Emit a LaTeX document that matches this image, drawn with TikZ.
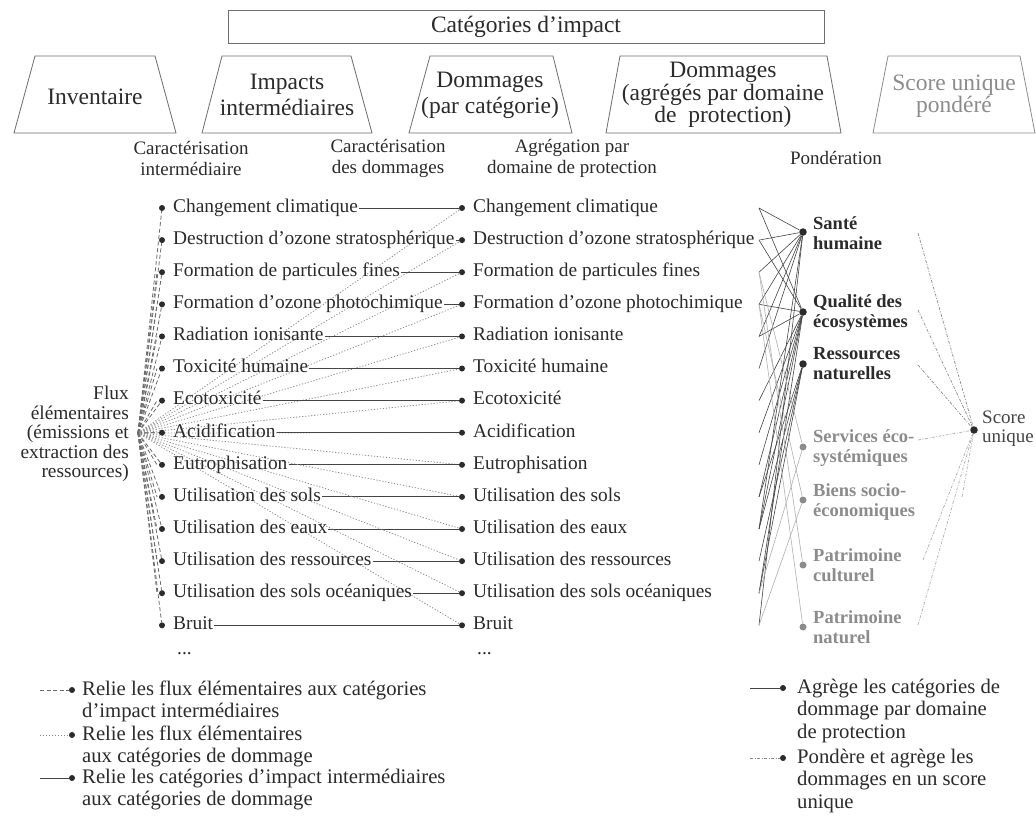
\documentclass[tikz,border=0pt]{standalone}
\usepackage{fontspec}
\setmainfont{Liberation Serif}
\definecolor{txt}{HTML}{2B2B2B}
\definecolor{ln}{HTML}{454545}
\definecolor{lg}{HTML}{8C8C8C}
\definecolor{dg}{HTML}{6A6A6A}
\definecolor{lgl}{HTML}{B0B0B0}
\definecolor{boxc}{HTML}{6E6E6E}
\pgfdeclarelayer{bg}
\pgfsetlayers{bg,main}
\begin{document}
\begin{tikzpicture}[x=1pt,y=-1pt,
  every node/.style={text=txt},
  hdr/.style={font=\fontsize{23.5}{25}\selectfont, align=center, inner sep=0pt},
  sublab/.style={font=\fontsize{19}{21}\selectfont, align=center, inner sep=0pt},
  rowtxt/.style={font=\fontsize{19.4}{20}\selectfont, inner xsep=1pt, inner ysep=0pt, text height=8.7pt, text depth=0pt, anchor=west},
  rdot/.style={circle, fill=txt, inner sep=0pt, minimum size=6pt},
  bdot/.style={circle, fill=txt, inner sep=0pt, minimum size=7.5pt},
  gdot/.style={circle, fill=lg, inner sep=0pt, minimum size=7pt},
  dom/.style={font=\bfseries\fontsize{18.5}{20}\selectfont, align=left, anchor=west, inner sep=0pt},
  leg/.style={font=\fontsize{20.7}{22}\selectfont, anchor=base west, inner sep=0pt},
  boxline/.style={draw=boxc, line width=0.8pt},
  fluxdash/.style={draw=dg, line width=0.8pt, dash pattern=on 4pt off 2.5pt},
  fluxdot/.style={draw=lg, line width=0.8pt, dash pattern=on 1.2pt off 1.8pt},
  solidc/.style={draw=ln, line width=1pt},
  dline/.style={draw=ln, line width=0.6pt},
  gline/.style={draw=lgl, line width=0.6pt},
  scline/.style={draw=lg, line width=0.7pt, dash pattern=on 3pt off 1.5pt on 1pt off 1.5pt},
  sclinel/.style={draw=lgl, line width=0.7pt, dash pattern=on 3pt off 1.5pt on 1pt off 1.5pt}
]
\begin{pgfonlayer}{bg}
\fill[white] (0,0) rectangle (1036,823);
\end{pgfonlayer}
\useasboundingbox (0,0) rectangle (1036,823);

% header
\draw[boxline] (228,10) rectangle (824,43);
\node[hdr] (cat) at (526,27) {Catégories d’impact};

\draw[boxline] (14,133) -- (35,56) -- (155,56) -- (176,133) -- cycle;
\node[hdr] (inv) at (95,97) {Inventaire};
\draw[boxline] (202,133) -- (222,56) -- (351,56) -- (372,133) -- cycle;
\node[hdr, font=\fontsize{23.5}{26}\selectfont] (imp) at (287,95) {Impacts\\intermédiaires};
\draw[boxline] (409,133) -- (430,56) -- (553,56) -- (572,133) -- cycle;
\node[hdr, font=\fontsize{23.5}{26}\selectfont] (dpc) at (490,95) {Dommages\\(par catégorie)};
\draw[boxline] (606,133) -- (620,56) -- (827,56) -- (841,133) -- cycle;
\node[hdr, font=\fontsize{23.5}{22.5}\selectfont] (dag) at (723,95) {Dommages\\(agrégés par domaine\\de~~protection)};
\draw[boxline, draw=lg] (873,133) -- (888,56) -- (1020,56) -- (1035,133) -- cycle;
\node[hdr, text=lg, font=\fontsize{23.5}{22.5}\selectfont] (sup) at (954,96) {Score unique\\pondéré};

% sub labels
\node[sublab] (c1) at (191,158) {Caractérisation\\intermédiaire};
\node[sublab] (c2) at (388,158) {Caractérisation\\des dommages};
\node[sublab] (c3) at (572,158) {Agrégation par\\domaine de protection};
\node[sublab] (c4) at (836,158) {Pondération};

% flux
\node[font=\fontsize{19.4}{19.5}\selectfont, align=right, anchor=east, inner sep=0pt] (flux) at (129,434)
  {Flux\\élémentaires\\(émissions et\\extraction des\\ressources)};
\coordinate (o) at (138,433);

% rows
\foreach \i/\t in {1/Changement climatique, 2/Destruction d’ozone stratosphérique,
  3/Formation de particules fines, 4/Formation d’ozone photochimique,
  5/Radiation ionisante, 6/Toxicité humaine, 7/Ecotoxicité, 8/Acidification,
  9/Eutrophisation, 10/Utilisation des sols, 11/Utilisation des eaux,
  12/Utilisation des ressources, 13/Utilisation des sols océaniques, 14/Bruit}{
  \pgfmathsetmacro\yy{208+(\i-1)*32.1}
  \node[rdot] (L\i) at (162,\yy) {};
  \node[rowtxt] (LT\i) at (172,\yy) {\t};
  \node[rdot] (R\i) at (462,\yy) {};
  \node[rowtxt] (RT\i) at (472,\yy) {\t};
  \coordinate (A\i) at (759,\yy);
}
\node[rowtxt] (LD) at (176,650) {...};
\node[rowtxt] (RD) at (476,650) {...};

\begin{pgfonlayer}{bg}
\foreach \i in {1,...,14}{
  \draw[fluxdash] (o) -- (L\i);
  \draw[fluxdot] (o) -- (R\i);
  \draw[solidc] (LT\i.east) -- (R\i);
}
\foreach \i in {3,...,13}{
  \draw[fluxdash] (o) -- ([xshift=-5pt]L\i.center);
}
\end{pgfonlayer}

% domains of protection
\node[bdot] (SH) at (803,232) {};
\node[dom] (SHt) at (813,233) {Santé\\humaine};
\node[bdot] (QE) at (803,312) {};
\node[dom] (QEt) at (813,313) {Qualité des\\écosystèmes};
\node[bdot] (RN) at (803,364) {};
\node[dom] (RNt) at (813,364) {Ressources\\naturelles};
\node[gdot] (SE) at (803,447) {};
\node[dom, text=lg] (SEt) at (813,448) {Services éco-\\systémiques};
\node[gdot] (BS) at (803,500) {};
\node[dom, text=lg] (BSt) at (813,502) {Biens socio-\\économiques};
\node[gdot] (PC) at (803,565) {};
\node[dom, text=lg] (PCt) at (813,565) {Patrimoine\\culturel};
\node[gdot] (PN) at (803,627) {};
\node[dom, text=lg] (PNt) at (813,627) {Patrimoine\\naturel};

\node[bdot] (SC) at (974,430) {};
\node[font=\fontsize{19}{19}\selectfont, align=left, anchor=west, inner sep=0pt, text=ln] (SCt) at (982,429) {Score\\unique};

\begin{pgfonlayer}{bg}
\foreach \a in {1,2,3,4,5,6,11,14} \draw[dline] (A\a) -- (SH);
\foreach \a in {1,2,4,5,7,8,9,10,11,13} \draw[dline] (A\a) -- (QE);
\foreach \a in {10,11,12,13} \draw[dline] (A\a) -- (RN);
\foreach \a/\d in {3/SE,4/BS,3/PC,4/PN,13/SE,14/BS} \draw[gline] (A\a) -- (\d);
\end{pgfonlayer}

\coordinate (S1) at (918,233);
\coordinate (S2) at (918,310);
\coordinate (S3) at (918,365);
\coordinate (S4) at (918,440);
\coordinate (S5) at (962,497);
\coordinate (S6) at (923,560);
\coordinate (S7) at (918,625);
\foreach \s in {S1,S2,S3} \draw[scline] (\s) -- (SC);
\foreach \s in {S4,S5,S6,S7} \draw[sclinel] (\s) -- (SC);

% legend left
\coordinate (g1s) at (40,690);
\node[rdot] (g1d) at (72,690) {};
\draw[fluxdash] (g1s) -- (g1d);
\node[leg] (g1a) at (82,695) {Relie les flux élémentaires aux catégories};
\node[leg] (g1b) at (82,717) {d’impact intermédiaires};

\coordinate (g2s) at (40,735);
\node[rdot] (g2d) at (72,735) {};
\draw[fluxdot] (g2s) -- (g2d);
\node[leg] (g2a) at (82,740) {Relie les flux élémentaires};
\node[leg] (g2b) at (82,762) {aux catégories de dommage};

\coordinate (g3s) at (40,778);
\node[rdot] (g3d) at (72,778) {};
\draw[solidc] (g3s) -- (g3d);
\node[leg] (g3a) at (82,783) {Relie les catégories d’impact intermédiaires};
\node[leg] (g3b) at (82,805) {aux catégories de dommage};

% legend right
\coordinate (h1s) at (750,688);
\node[rdot] (h1d) at (783,688) {};
\draw[dline] (h1s) -- (h1d);
\node[leg] (h1a) at (797,693) {Agrège les catégories de};
\node[leg] (h1b) at (797,715.5) {dommage par domaine};
\node[leg] (h1c) at (797,738) {de protection};

\coordinate (h2s) at (750,758);
\node[rdot] (h2d) at (783,758) {};
\draw[scline] (h2s) -- (h2d);
\node[leg] (h2a) at (797,763) {Pondère et agrège les};
\node[leg] (h2b) at (797,785.5) {dommages en un score};
\node[leg] (h2c) at (797,808) {unique};
\end{tikzpicture}
\end{document}
